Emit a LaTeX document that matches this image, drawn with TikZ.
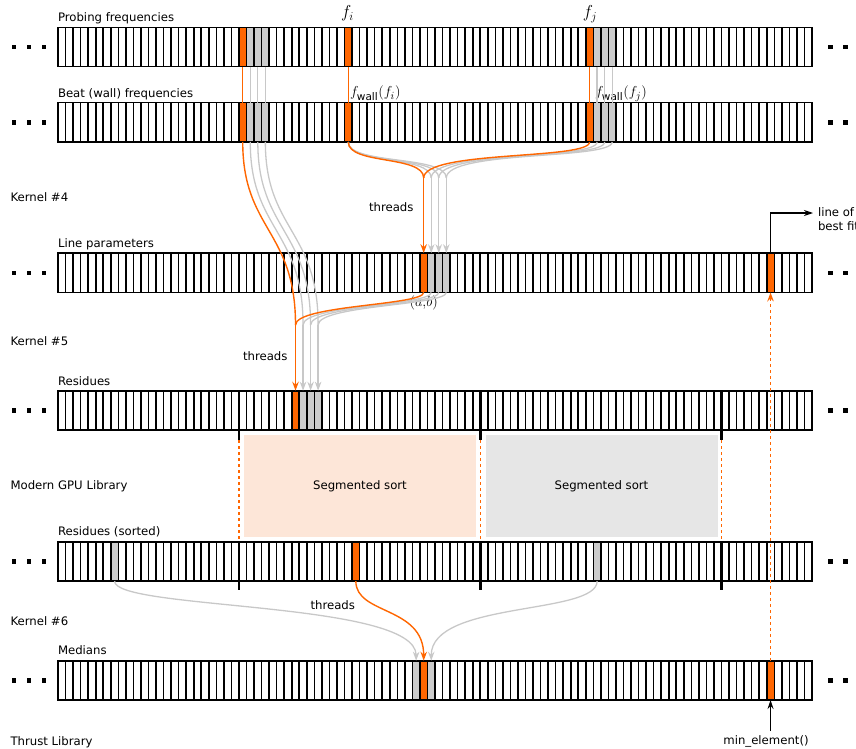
\documentclass[tikz,border=0pt]{standalone}
\usepackage{amsmath}
\usepackage{fontspec}
\setsansfont{DejaVu Sans}
\usetikzlibrary{arrows.meta,calc}
\pgfdeclarelayer{bg}
\pgfsetlayers{bg,main}
\definecolor{myor}{RGB}{255,102,0}
\definecolor{cellgray}{RGB}{204,204,204}
\definecolor{curvegray}{RGB}{200,200,200}
\definecolor{peach}{RGB}{253,230,216}
\definecolor{boxgray}{RGB}{230,230,230}
\tikzset{
 cell/.style={draw=black, line width=1.6pt, minimum width=7.54pt, minimum height=39.3pt, inner sep=0pt, outer sep=0pt},
 lab/.style={font=\sffamily\fontsize{11.7}{14}\selectfont, inner sep=0pt, outer sep=0pt},
 gcurve/.style={draw=curvegray, line width=1.3pt},
 ocurve/.style={draw=myor, line width=1.4pt},
 tipst/.style={-{Stealth[length=9pt,width=6.5pt,inset=3pt]}},
 garrow/.style={gcurve, tipst},
 oarrow/.style={ocurve, tipst},
 karrow/.style={draw=black, line width=1.2pt, -{Stealth[length=9pt,width=6pt,inset=3pt]}},
 segline/.style={draw=black, line width=2.8pt},
 segdash/.style={draw=myor, line width=1.2pt, dash pattern=on 3pt off 3pt},
 dotsq/.style={fill=black, minimum size=4.5pt, inner sep=0pt, outer sep=0pt},
 sortbox/.style={minimum width=232pt, minimum height=102pt, inner sep=0pt, font=\sffamily\fontsize{11.7}{14}\selectfont},
 mathlab/.style={inner sep=0pt, outer sep=0pt},
}
\begin{document}
\begin{tikzpicture}[x=1pt,y=-1pt]
\useasboundingbox (0,0) rectangle (856,749);
% ---------- rows of cells ----------
\foreach \r/\yy in {1/47,2/122.35,3/272.8,4/410.35,5/561.5,6/680.35}{
  \foreach \ci in {0,...,99}{
    \node[cell] (r\r c\ci) at ({58+(\ci+0.5)*7.54},\yy) {};
  }
  \node[dotsq] (dLa\r) at (14,\yy) {};
  \node[dotsq] (dLb\r) at (29,\yy) {};
  \node[dotsq] (dLc\r) at (44,\yy) {};
  \node[dotsq] (dRa\r) at (830.3,\yy) {};
  \node[dotsq] (dRb\r) at (845.3,\yy) {};
  \node[dotsq] (dRc\r) at (860.3,\yy) {};
}
% ---------- coloured cells ----------
\begin{pgfonlayer}{bg}
\foreach \n in {r1c24,r1c38,r1c70,r2c24,r2c38,r2c70,r3c48,r3c94,r4c31,r5c39,r6c48,r6c94}
  \fill[myor] (\n.south west) rectangle (\n.north east);
\foreach \n in {r1c25,r1c26,r1c27,r1c71,r1c72,r1c73,r2c25,r2c26,r2c27,r2c71,r2c72,r2c73,r3c49,r3c50,r3c51,r4c32,r4c33,r4c34,r5c7,r5c71,r6c47,r6c49}
  \fill[cellgray] (\n.south west) rectangle (\n.north east);
\end{pgfonlayer}
% ---------- row labels ----------
\node[lab, anchor=base west] (lp) at (58,21.5) {Probing frequencies};
\node[lab, anchor=base west] (lb) at (58,98) {Beat (wall) frequencies};
\node[lab, anchor=base west] (ll) at (58,247.5) {Line parameters};
\node[lab, anchor=base west] (lr) at (58,385.5) {Residues};
\node[lab, anchor=base west] (ls) at (58,535.5) {Residues (sorted)};
\node[lab, anchor=base west] (lm) at (58,654.5) {Medians};
% ---------- left column ----------
\node[lab, anchor=base west] (k4) at (10.5,201) {Kernel \#4};
\node[lab, anchor=base west] (k5) at (10.5,345) {Kernel \#5};
\node[lab, anchor=base west] (mg) at (10.5,489) {Modern GPU Library};
\node[lab, anchor=base west] (k6) at (10.5,625) {Kernel \#6};
\node[lab, anchor=base west] (tl) at (10.5,745) {Thrust Library};
% ---------- threads ----------
\node[lab, anchor=base west] (th1) at (369,211.5) {threads};
\node[lab, anchor=base west] (th2) at (243,360) {threads};
\node[lab, anchor=base west] (th3) at (310.5,609) {threads};
% ---------- math labels ----------
\node[mathlab, anchor=base, font=\fontsize{17.5}{18}\selectfont] (fi) at (347.5,17.5) {$f_i$};
\node[mathlab, anchor=base, font=\fontsize{17.5}{18}\selectfont] (fj) at (590,17.5) {$f_j$};
\node[mathlab, anchor=base west, font=\fontsize{15}{16}\selectfont] (fwi) at (350,97) {$f_{\textsf{wall}}(f_i)$};
\node[mathlab, anchor=base west, font=\fontsize{15}{16}\selectfont] (fwj) at (595,97) {$f_{\textsf{wall}}(f_j)$};
\node[mathlab, font=\fontsize{13.5}{14}\selectfont] (ab) at (423.7,303) {$(a{,}b)$};
% ---------- segmented sort ----------
\node[sortbox, fill=peach] (sort1) at (360,486) {Segmented sort};
\node[sortbox, fill=boxgray] (sort2) at (601.5,486) {Segmented sort};
\foreach \ci in {24,56,88}{
  \draw[segline] (r4c\ci.north west) -- ($(r4c\ci.south west)+(0,10)$) coordinate (sa\ci);
  \draw[segline] (r5c\ci.north west) coordinate (sb\ci) -- ($(r5c\ci.south west)+(0,9)$);
  \draw[segdash] (sa\ci) -- (sb\ci);
}
% ---------- gray connectors ----------
\foreach \ci in {25,26,27,71,72,73} \draw[gcurve] (r1c\ci.south) -- (r2c\ci.north);
\foreach \k in {1,2,3}{
  \pgfmathtruncatemacro\tgt{48+\k}
  \pgfmathtruncatemacro\src{70+\k}
  \coordinate (mB\k) at (r3c\tgt.north |- 0,178);
  \draw[gcurve] (r2c38.south) .. controls +(0,23) and +(0,-23) .. (mB\k);
  \draw[gcurve] (r2c\src.south) .. controls +(0,18) and +(0,-28) .. (mB\k);
  \draw[garrow] (mB\k) -- (r3c\tgt.north);
}
\foreach \k in {1,2,3}{
  \pgfmathtruncatemacro\bs{24+\k}
  \pgfmathtruncatemacro\lp{48+\k}
  \pgfmathtruncatemacro\rs{31+\k}
  \coordinate (mA\k) at (r4c\rs.north |- 0,325);
  \draw[gcurve] (r2c\bs.south) .. controls +(0,88) and +(0,-95) .. (mA\k);
  \draw[gcurve] (r3c\lp.south) .. controls +(0,13) and +(0,-20) .. (mA\k);
  \draw[garrow] (mA\k) -- (r4c\rs.north);
}
\draw[garrow] (r5c7.south) .. controls +(0,29) and +(0,-60) .. (r6c47.north);
\draw[garrow] (r5c71.south) .. controls +(0,34) and +(0,-60) .. (r6c49.north);
% ---------- orange connectors ----------
\foreach \ci in {24,38,70} \draw[ocurve] (r1c\ci.south) -- (r2c\ci.north);
\coordinate (mB0) at (r3c48.north |- 0,178);
\draw[ocurve] (r2c38.south) .. controls +(0,23) and +(0,-23) .. (mB0);
\draw[ocurve] (r2c70.south) .. controls +(0,18) and +(0,-28) .. (mB0);
\draw[oarrow] (mB0) -- (r3c48.north);
\coordinate (mA0) at (r4c31.north |- 0,325);
\draw[ocurve] (r2c24.south) .. controls +(0,88) and +(0,-95) .. (mA0);
\draw[ocurve] (r3c48.south) .. controls +(0,13) and +(0,-20) .. (mA0);
\draw[oarrow] (mA0) -- (r4c31.north);
\draw[oarrow] (r5c39.south) .. controls +(0,34) and +(0,-55) .. (r6c48.north);
% ---------- min element / line of best fit ----------
\draw[segdash, tipst] (r6c94.north) -- (r3c94.south);
\node[lab, anchor=base] (minel) at (766,744) {min\_element()};
\coordinate (minbot) at (r6c94.south |- 0,731);
\draw[karrow] (minbot) -- (r6c94.south);
\node[lab, anchor=north west, align=left] (lbf) at (818,207.8) {line of\\best fit};
\coordinate (lbfc) at (r3c94.north |- 0,213);
\coordinate (lbfend) at (813,213);
\draw[karrow] (r3c94.north) -- (lbfc) -- (lbfend);
\end{tikzpicture}
\end{document}
